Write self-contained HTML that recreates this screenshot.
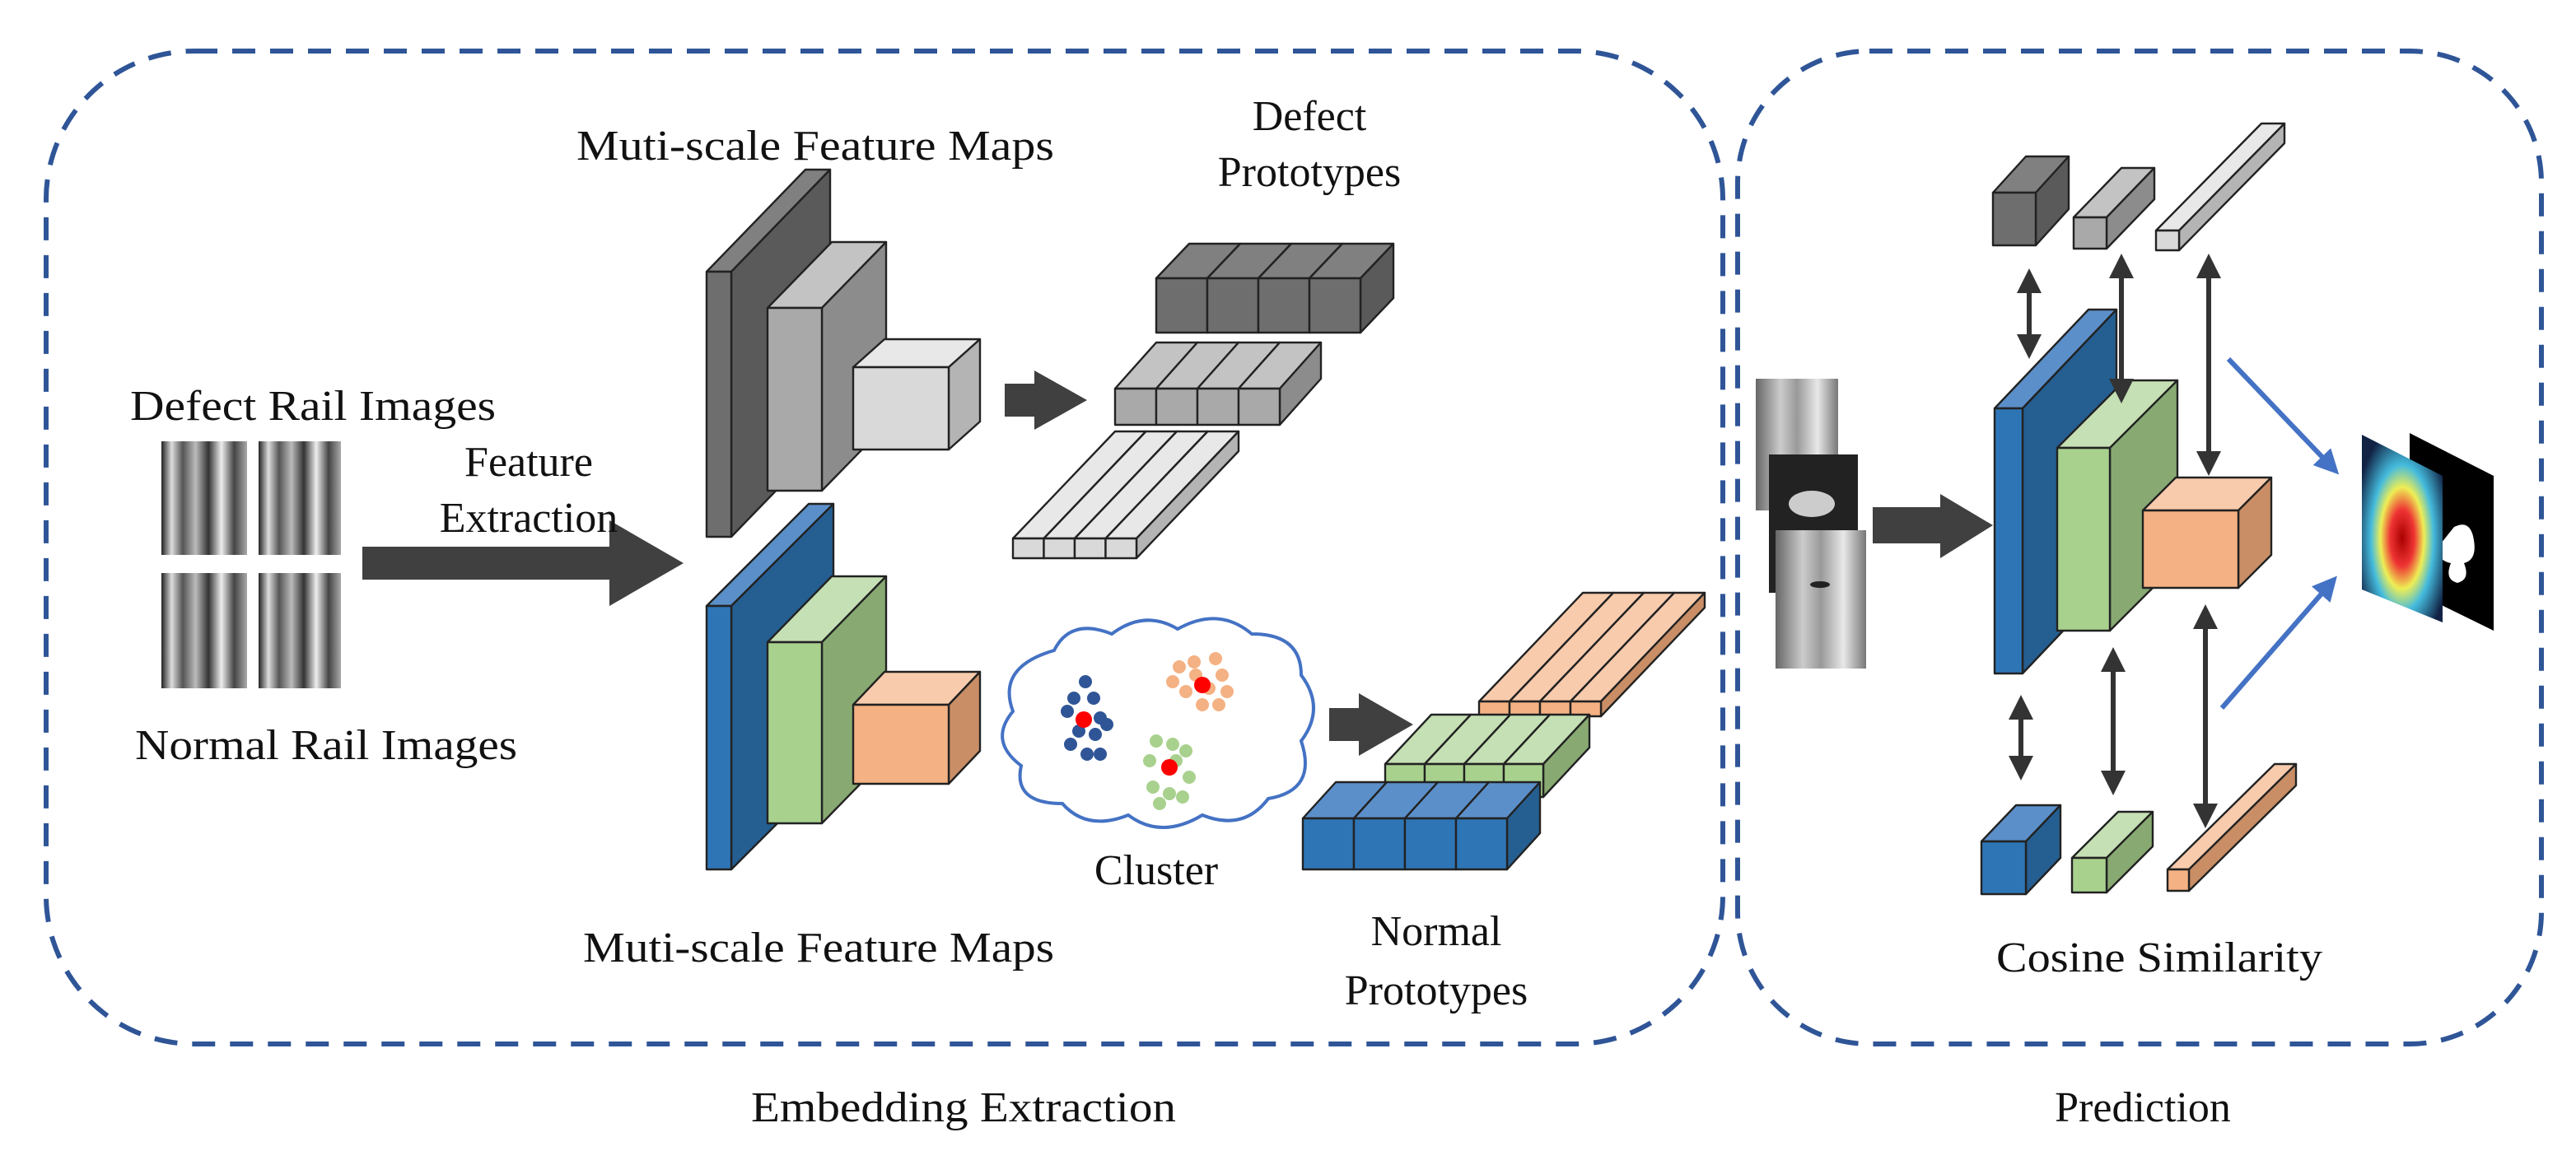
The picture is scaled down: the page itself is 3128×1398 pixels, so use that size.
<!DOCTYPE html>
<html><head><meta charset="utf-8"><style>
html,body{margin:0;padding:0;background:#fff;}
svg{display:block;}
text{font-family:"Liberation Serif",serif;fill:#111;font-size:26px;}
</style></head><body>
<svg id="s" width="3128" height="1398" viewBox="0 0 1564 699" xmlns="http://www.w3.org/2000/svg">
<defs>
<linearGradient id="rail" x1="0" x2="1" y1="0" y2="0">
<stop offset="0" stop-color="#222"/><stop offset="0.12" stop-color="#ddd"/><stop offset="0.25" stop-color="#555"/>
<stop offset="0.4" stop-color="#bbb"/><stop offset="0.55" stop-color="#333"/><stop offset="0.7" stop-color="#eee"/>
<stop offset="0.85" stop-color="#444"/><stop offset="1" stop-color="#aaa"/></linearGradient>
<linearGradient id="rail2" x1="0" x2="1" y1="0" y2="0">
<stop offset="0" stop-color="#666"/><stop offset="0.3" stop-color="#ccc"/><stop offset="0.5" stop-color="#999"/>
<stop offset="0.75" stop-color="#e8e8e8"/><stop offset="1" stop-color="#777"/></linearGradient>
<radialGradient id="heat" cx="0.5" cy="0.55" r="0.6">
<stop offset="0" stop-color="#a00"/><stop offset="0.25" stop-color="#e33"/><stop offset="0.45" stop-color="#ee5"/>
<stop offset="0.65" stop-color="#4bd"/><stop offset="1" stop-color="#124"/></radialGradient>
<marker id="ah" markerWidth="5" markerHeight="5" refX="4" refY="2.5" orient="auto-start-reverse" markerUnits="strokeWidth"><path d="M0,0 L5,2.5 L0,5 Z" fill="#333"/></marker>
<marker id="bh" markerWidth="5" markerHeight="5" refX="4" refY="2.5" orient="auto" markerUnits="strokeWidth"><path d="M0,0 L5,2.5 L0,5 Z" fill="#4472c4"/></marker>
</defs>
<g fill="none" stroke="#2f5597" stroke-width="3" stroke-dasharray="14 9">
<rect x="28" y="31" width="1018" height="603" rx="90"/>
<rect x="1055" y="31" width="488" height="603" rx="80"/>
</g>
<g id="g"></g>
<rect x="98" y="268" width="52" height="69" fill="url(#rail)"/>
<rect x="157" y="268" width="50" height="69" fill="url(#rail)"/>
<rect x="98" y="348" width="52" height="70" fill="url(#rail)"/>
<rect x="157" y="348" width="50" height="70" fill="url(#rail)"/>
<polygon points="220,332 370,332 370,316 415,342 370,368 370,352 220,352" fill="#404040"/>
<polygon points="610,233 628,233 628,225 660,243 628,261 628,253 610,253" fill="#404040"/>
<polygon points="807,430 825,430 825,421 858,440 825,459 825,450 807,450" fill="#404040"/>
<polygon points="1137,308 1178,308 1178,300 1210,319 1178,339 1178,330 1137,330" fill="#404040"/>
<path d="M640,395 Q650,375 675,385 Q695,370 715,382 Q740,368 760,385 Q790,385 790,410 Q805,430 790,450 Q800,480 770,485 Q755,505 730,495 Q705,510 685,495 Q660,505 645,488 Q615,488 620,465 Q600,450 615,432 Q605,405 640,395 Z" fill="#fff" stroke="#4472c4" stroke-width="2"/>
<g id="dots"></g>
<rect x="1066" y="230" width="50" height="80" fill="url(#rail2)"/>
<rect x="1074" y="276" width="54" height="84" fill="#222"/>
<ellipse cx="1100" cy="306" rx="14" ry="8" fill="#ccc"/>
<rect x="1078" y="322" width="55" height="84" fill="url(#rail2)"/>
<ellipse cx="1105" cy="355" rx="6" ry="2" fill="#222"/>
<polygon points="1463,263 1514,289 1514,383 1463,358" fill="#000"/>
<path d="M1490,320 q10,-5 12,8 q2,12 -6,14 q4,10 -4,12 q-8,-2 -4,-12 q-10,-2 -6,-12 Z" fill="#fff"/>
<polygon points="1434,264 1483,289 1483,378 1434,358" fill="url(#heat)"/>
<line x1="1353" y1="218" x2="1418" y2="286" stroke="#4472c4" stroke-width="3" marker-end="url(#bh)"/>
<line x1="1349" y1="430" x2="1417" y2="352" stroke="#4472c4" stroke-width="3" marker-end="url(#bh)"/>
<g id="arr" stroke="#333" stroke-width="3"></g>
<text x="495" y="97" text-anchor="middle" textLength="290" lengthAdjust="spacingAndGlyphs">Muti-scale Feature Maps</text>
<text x="795" y="79" text-anchor="middle">Defect</text>
<text x="795" y="113" text-anchor="middle">Prototypes</text>
<text x="190" y="255" text-anchor="middle" textLength="222" lengthAdjust="spacingAndGlyphs">Defect Rail Images</text>
<text x="321" y="289" text-anchor="middle">Feature</text>
<text x="321" y="323" text-anchor="middle">Extraction</text>
<text x="198" y="461" text-anchor="middle" textLength="232" lengthAdjust="spacingAndGlyphs">Normal Rail Images</text>
<text x="702" y="537" text-anchor="middle">Cluster</text>
<text x="497" y="584" text-anchor="middle" textLength="286" lengthAdjust="spacingAndGlyphs">Muti-scale Feature Maps</text>
<text x="872" y="574" text-anchor="middle">Normal</text>
<text x="872" y="610" text-anchor="middle">Prototypes</text>
<text x="585" y="681" text-anchor="middle" textLength="258" lengthAdjust="spacingAndGlyphs">Embedding Extraction</text>
<text x="1311" y="590" text-anchor="middle" textLength="198" lengthAdjust="spacingAndGlyphs">Cosine Similarity</text>
<text x="1301" y="681" text-anchor="middle">Prediction</text>
</svg>
<script>
var NS="http://www.w3.org/2000/svg",g=document.getElementById('g');
var C={dk:["#6e6e6e","#808080","#5a5a5a"],md:["#a9a9a9","#c3c3c3","#8c8c8c"],lt:["#d9d9d9","#e8e8e8","#b4b4b4"],
bl:["#2e75b6","#5b8fc9","#255e91"],gr:["#a9d18e","#c5e0b4","#88aa72"],or:["#f4b183","#f8cbad","#c98e66"]};
function poly(p,f){var e=document.createElementNS(NS,'polygon');e.setAttribute('points',p.map(function(a){return a.join(',')}).join(' '));e.setAttribute('fill',f);e.setAttribute('stroke','#222');e.setAttribute('stroke-width','1.2');e.setAttribute('stroke-linejoin','round');g.appendChild(e);}
function cub(x,y,w,h,dx,dy,c){c=C[c];
poly([[x,y],[x+dx,y+dy],[x+w+dx,y+dy],[x+w,y]],c[1]);
poly([[x+w,y],[x+w+dx,y+dy],[x+w+dx,y+h+dy],[x+w,y+h]],c[2]);
poly([[x,y],[x+w,y],[x+w,y+h],[x,y+h]],c[0]);}
function row(x,y,w,h,dx,dy,c,n){for(var i=0;i<n;i++)cub(x+i*w,y,w,h,dx,dy,c);}
cub(429,165,15,161,60,-62,'dk');cub(466,187,33,111,39,-40,'md');cub(518,223,58,50,19,-17,'lt');
cub(429,368,15,160,62,-62,'bl');cub(466,390,33,110,39,-40,'gr');cub(518,428,58,48,19,-20,'or');
row(702,169,31,33,20,-21,'dk',4);row(677,236,25,22,25,-28,'md',4);row(615,327,18.75,12,62,-65,'lt',4);
row(898,426,18.5,9,63,-66,'or',4);row(841,464,24,20,28,-30,'gr',4);row(791,497,31,31,20,-22,'bl',4);
cub(1211,248,17,161,57,-60,'bl');cub(1249,272,32,111,41,-41,'gr');cub(1301,310,58,47,20,-20,'or');
cub(1210,117,26,32,20,-22,'dk');cub(1259,132,20,19,29,-30,'md');cub(1309,140,14,12,64,-65,'lt');
cub(1203,511,27,32,21,-22,'bl');cub(1258,521,21,21,28,-28,'gr');cub(1316,528,13,13,65,-64,'or');
var d=document.getElementById('dots');
function dot(x,y,c,r){var e=document.createElementNS(NS,'circle');e.setAttribute('cx',x);e.setAttribute('cy',y);e.setAttribute('r',r||4);e.setAttribute('fill',c);d.appendChild(e);}
[[659,414],[652,424],[664,424],[648,432],[668,436],[655,444],[665,446],[672,440],[650,452],[660,458],[668,458]].forEach(function(p){dot(p[0],p[1],'#2f5597');});
[[716,405],[725,402],[738,400],[742,410],[734,418],[720,420],[712,414],[745,420],[730,428],[740,428],[726,410]].forEach(function(p){dot(p[0],p[1],'#f4b183');});
[[702,450],[712,452],[720,456],[698,462],[714,462],[722,472],[700,478],[710,482],[704,488],[718,484]].forEach(function(p){dot(p[0],p[1],'#a9d18e');});
dot(658,437,'#f00',5);dot(730,416,'#f00',5);dot(710,466,'#f00',5);
var a=document.getElementById('arr');
function dbl(x,y1,y2){var e=document.createElementNS(NS,'line');e.setAttribute('x1',x);e.setAttribute('x2',x);e.setAttribute('y1',y1+8);e.setAttribute('y2',y2-8);e.setAttribute('marker-start','url(#ah)');e.setAttribute('marker-end','url(#ah)');a.appendChild(e);}
dbl(1232,158,223);dbl(1288,149,250);dbl(1341,149,294);dbl(1227,417,479);dbl(1283,388,488);dbl(1339,362,508);
</script>
</body></html>
